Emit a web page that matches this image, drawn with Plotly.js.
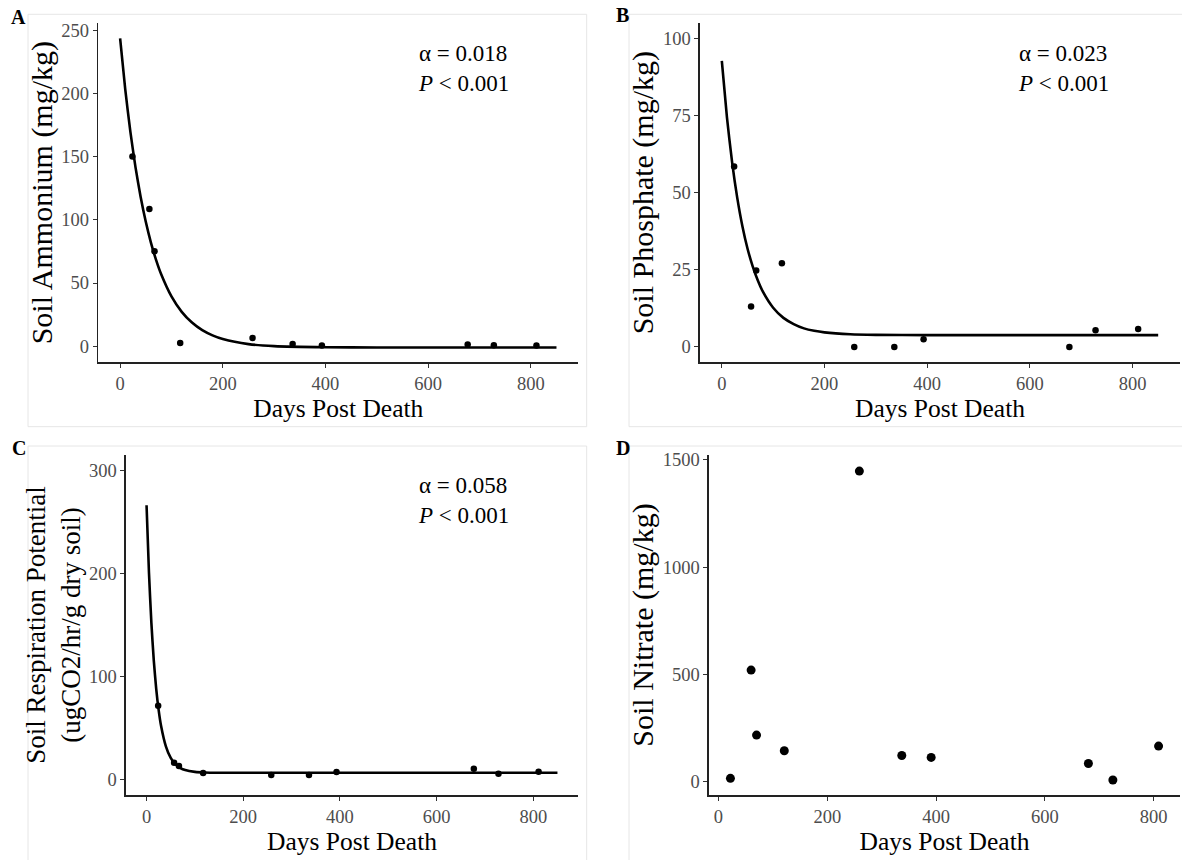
<!DOCTYPE html>
<html>
<head>
<meta charset="utf-8">
<script src="https://cdn.plot.ly/plotly-3.0.1.min.js"></script>
<style>
  html, body { margin: 0; padding: 0; background: #ffffff; }
  #chart { width: 1182px; height: 860px; }
</style>
</head>
<body>
<div id="chart"></div>
<script>
// ---------------- data ----------------
const DAYS_ABC = [24, 57, 67, 117, 258, 336, 393, 677, 728, 811];
const AMMONIUM = [150, 108.5, 75.2, 2.6, 6.6, 1.8, 0.5, 1.3, 0.8, 0.5];
const PHOSPHATE = [58.5, 13.1, 24.8, 27.1, 0, 0, 2.5, 0, 5.4, 5.8];
const RESPIRATION = [71.6, 16.2, 13.0, 6.2, 4.2, 4.2, 7.1, 10.4, 5.5, 7.5];
const DAYS_D = [22, 60, 70, 121, 259, 337, 391, 680, 725, 809];
const NITRATE = [15.5, 520, 217, 144, 1447, 122, 113, 85, 8, 166];

// fitted decay curves
const FIT_X_A = [0, 10, 20, 30, 40, 50, 60, 70, 80, 100, 120, 140, 160, 180, 200, 250, 300, 400, 500, 600, 700, 850];
const FIT_Y_A = [243.4, 203.1, 169.5, 141.4, 118.0, 98.4, 82.0, 68.3, 56.9, 39.4, 27.2, 18.7, 12.7, 8.6, 5.7, 1.7, 0.1, -0.8, -1.0, -1.0, -1.0, -1.0];
const FIT_X_B = [0, 10, 20, 30, 40, 50, 60, 70, 80, 100, 120, 140, 160, 180, 200, 250, 300, 400, 500, 600, 700, 850];
const FIT_Y_B = [92.7, 74.4, 59.9, 48.4, 39.2, 31.9, 26.2, 21.6, 17.9, 12.7, 9.4, 7.4, 6.0, 5.2, 4.7, 4.1, 3.9, 3.8, 3.8, 3.8, 3.8, 3.8];
const FIT_X_C = [0, 5, 10, 15, 20, 25, 30, 40, 50, 60, 70, 80, 100, 120, 150, 200, 300, 400, 500, 600, 700, 850];
const FIT_Y_C = [266.5, 201.1, 152.1, 115.4, 88.0, 67.5, 52.1, 32.1, 20.8, 14.5, 11.0, 9.0, 7.3, 6.7, 6.5, 6.5, 6.5, 6.5, 6.5, 6.5, 6.5, 6.5];

const X_TICKS = [0, 200, 400, 600, 800];
const Y_TICKS_A = [0, 50, 100, 150, 200, 250];
const Y_TICKS_B = [0, 25, 50, 75, 100];
const Y_TICKS_C = [0, 100, 200, 300];
const Y_TICKS_D = [0, 500, 1000, 1500];

const X_TITLE = 'Days Post Death';
const Y_TITLE_A = 'Soil Ammonium (mg/kg)';
const Y_TITLE_B = 'Soil Phosphate (mg/kg)';
const Y_TITLE_C = 'Soil Respiration Potential<br>(ugCO2/hr/g dry soil)';
const Y_TITLE_D = 'Soil Nitrate (mg/kg)';
const STATS_A = 'α = 0.018<br><i>P</i> &lt; 0.001';
const STATS_B = 'α = 0.023<br><i>P</i> &lt; 0.001';
const STATS_C = 'α = 0.058<br><i>P</i> &lt; 0.001';
const PANEL_LABELS = ['A', 'B', 'C', 'D'];

// ---------------- layout helpers ----------------
const W = 1182, H = 860;
const FONT = '"Liberation Serif", "Times New Roman", serif';
const px = v => v / W;
const py = v => 1 - v / H;

function xaxis(domain, range, anchor, standoff) {
  return {
    domain: domain, range: range, anchor: anchor,
    tickvals: X_TICKS, ticks: 'outside', ticklen: 4, tickwidth: 1, tickcolor: '#333333',
    showline: true, linecolor: '#222222', linewidth: 1.6,
    showgrid: false, zeroline: false, fixedrange: true,
    tickfont: { family: FONT, size: 18.5, color: '#4d4d4d' },
    title: { text: X_TITLE, font: { family: FONT, size: 25.5, color: '#000000' }, standoff: standoff }
  };
}
function yaxis(domain, range, anchor, ticks, title, size, standoff) {
  return {
    domain: domain, range: range, anchor: anchor,
    tickvals: ticks, ticks: 'outside', ticklen: 4, tickwidth: 1, tickcolor: '#333333',
    showline: true, linecolor: '#222222', linewidth: 1.6,
    showgrid: false, zeroline: false, fixedrange: true,
    tickfont: { family: FONT, size: 18.5, color: '#4d4d4d' },
    title: { text: title, font: { family: FONT, size: size, color: '#000000' }, standoff: standoff }
  };
}

const topDom = [py(362.3), py(23)];
const botDom = [py(795), py(455)];
const XR = [-42.5, 892.5];

function pts(x, y, xa, ya, size) {
  return { type: 'scatter', mode: 'markers', x: x, y: y, xaxis: xa, yaxis: ya,
    marker: { color: '#000000', size: size }, hoverinfo: 'x+y' };
}
function fit(x, y, xa, ya) {
  return { type: 'scatter', mode: 'lines', x: x, y: y, xaxis: xa, yaxis: ya,
    line: { color: '#000000', width: 2.6, shape: 'spline', smoothing: 0.6 }, hoverinfo: 'skip' };
}

const data = [
  fit(FIT_X_A, FIT_Y_A, 'x', 'y'),
  pts(DAYS_ABC, AMMONIUM, 'x', 'y', 6.5),
  fit(FIT_X_B, FIT_Y_B, 'x2', 'y2'),
  pts(DAYS_ABC, PHOSPHATE, 'x2', 'y2', 6.5),
  fit(FIT_X_C, FIT_Y_C, 'x3', 'y3'),
  pts(DAYS_ABC, RESPIRATION, 'x3', 'y3', 6.5),
  pts(DAYS_D, NITRATE, 'x4', 'y4', 9)
];

function stats(text, xref, yref, xf, yf) {
  return { text: text, xref: xref, yref: yref, x: xf, y: yf, xanchor: 'left', yanchor: 'middle',
    align: 'left', showarrow: false, font: { family: FONT, size: 23, color: '#000000' } };
}
function panelLabel(text, x, y) {
  return { text: '<b>' + text + '</b>', xref: 'paper', yref: 'paper', x: px(x), y: py(y),
    xanchor: 'center', yanchor: 'middle', showarrow: false,
    font: { family: FONT, size: 20, color: '#000000' } };
}
function frame(x0, y0, x1, y1) {
  return { type: 'rect', xref: 'paper', yref: 'paper', x0: px(x0), x1: px(x1), y0: py(y1), y1: py(y0),
    line: { color: '#e6e6e6', width: 1 }, fillcolor: 'rgba(0,0,0,0)', layer: 'below' };
}

const layout = {
  width: W, height: H,
  margin: { l: 0, r: 0, t: 0, b: 0 },
  paper_bgcolor: '#ffffff', plot_bgcolor: '#ffffff',
  showlegend: false,
  xaxis:  xaxis([px(98.3), px(578.3)], XR, 'y', 0),
  yaxis:  yaxis(topDom, [-12.7, 255.6], 'x', Y_TICKS_A, Y_TITLE_A, 30, 0),
  xaxis2: xaxis([px(700), px(1180)], XR, 'y2', 0),
  yaxis2: yaxis(topDom, [-5, 105], 'x2', Y_TICKS_B, Y_TITLE_B, 30, 0),
  xaxis3: xaxis([px(126), px(578)], XR, 'y3', 0),
  yaxis3: yaxis(botDom, [-15.2, 315.3], 'x3', Y_TICKS_C, Y_TITLE_C, 27, 0),
  xaxis4: xaxis([px(709), px(1180)], [-17.4, 848.4], 'y4', 0),
  yaxis4: yaxis(botDom, [-62, 1522], 'x4', Y_TICKS_D, Y_TITLE_D, 30, 0),
  annotations: [
    stats(STATS_A, 'x domain', 'y domain', 0.662, 0.866),
    stats(STATS_B, 'x2 domain', 'y2 domain', 0.658, 0.866),
    stats(STATS_C, 'x3 domain', 'y3 domain', 0.6416, 0.867),
    panelLabel(PANEL_LABELS[0], 19, 16.5),
    panelLabel(PANEL_LABELS[1], 622.5, 15.5),
    panelLabel(PANEL_LABELS[2], 19, 448),
    panelLabel(PANEL_LABELS[3], 622.5, 448)
  ],
  shapes: [
    frame(28, 14.3, 586.7, 426.7),
    frame(629, 14.3, 1200, 426.7),
    frame(28, 446, 586.7, 900),
    frame(629, 446, 1200, 900)
  ]
};

Plotly.newPlot('chart', data, layout, { displayModeBar: false, staticPlot: true });
</script>
</body>
</html>
